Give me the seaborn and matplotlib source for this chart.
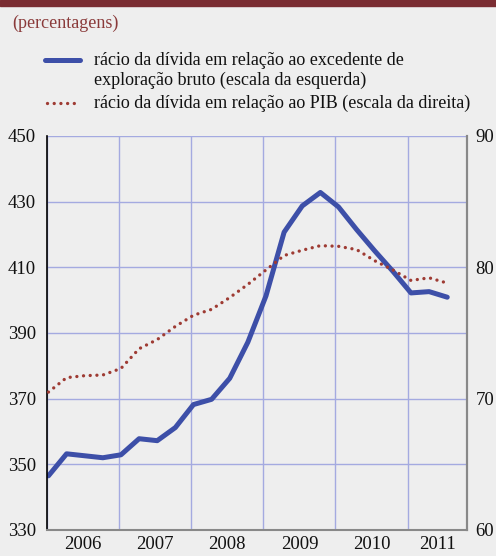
import numpy as np
import pandas as pd
import matplotlib
matplotlib.use("Agg")
import matplotlib.pyplot as plt
from matplotlib.lines import Line2D
import seaborn as sns

# quarterly observations, 2006 Q1 .. 2011 Q3
quarters = np.arange(23)
debt_gos = [346.5, 353.2, 352.6, 352.0, 352.9, 357.8, 357.2, 361.2, 368.2, 369.8,
            376.2, 387.2, 401.3, 420.7, 428.7, 432.8, 428.4, 421.5, 415.0, 408.8,
            402.2, 402.6, 400.9]
debt_gdp = [70.5, 71.6, 71.75, 71.8, 72.3, 73.8, 74.5, 75.5, 76.35, 76.8,
            77.7, 78.7, 79.8, 80.9, 81.3, 81.65, 81.6, 81.35, 80.5, 79.8,
            79.0, 79.2, 78.8]
years = [2006, 2007, 2008, 2009, 2010, 2011]
left_ticks = [330, 350, 370, 390, 410, 430, 450]
right_ticks = [60, 70, 80, 90]

label_blue = ["rácio da dívida em relação ao excedente de",
              "exploração bruto (escala da esquerda)"]
label_red = "rácio da dívida em relação ao PIB (escala da direita)"

df = pd.DataFrame({"t": 2006.02 + 0.2514 * quarters, "gos": debt_gos, "gdp": debt_gdp})

bg = "#eeeeee"
blue = "#3d4fa8"
red = "#9e3b33"
grid_c = "#a4aae0"
txt = "#111111"

sns.set_theme(style="white")
plt.rcParams["font.family"] = ["Liberation Serif", "DejaVu Serif"]

fig = plt.figure(figsize=(4.96, 5.56), dpi=100, facecolor=bg)
ax = fig.add_axes([0.0948, 0.0468, 0.8475, 0.7086])
ax.set_facecolor(bg)

sns.lineplot(data=df, x="t", y="gos", ax=ax, color=blue, linewidth=3.6, legend=False)
ax.set_xlim(2006.0, 2011.83)
ax.set_ylim(330, 450)
ax.set_yticks(left_ticks)
ax.grid(True, axis="both", color=grid_c, linewidth=1.0)
ax.set_axisbelow(True)

ax2 = ax.twinx()
sns.lineplot(data=df, x="t", y="gdp", ax=ax2, color=red, linewidth=2.4,
             linestyle=(0, (0.01, 2.0)), legend=False)
for line in ax2.get_lines():
    line.set_dash_capstyle("round")
ax2.set_ylim(60, 90)
ax2.set_yticks(right_ticks)
ax2.grid(False)

# x ticks at year boundaries, labels centred within each year
ax.set_xticks(years)
ax.set_xticklabels([])
ax.set_xticks([y + 0.5 for y in years[:-1]] + [2011.42], minor=True)
ax.set_xticklabels([str(y) for y in years], minor=True)
ax.tick_params(axis="x", which="major", direction="out", length=4, width=1.5, color="black")
ax.tick_params(axis="x", which="minor", length=0, pad=4, labelsize=13.5, labelcolor=txt)
ax.tick_params(axis="y", length=0, pad=8, labelsize=13.5, labelcolor=txt)
ax2.tick_params(axis="y", length=0, pad=6, labelsize=13.5, labelcolor=txt)
ax.set_xlabel("")
ax.set_ylabel("")
ax2.set_ylabel("")

for a in (ax, ax2):
    a.spines["top"].set_visible(False)
    a.spines["left"].set_color("black")
    a.spines["left"].set_linewidth(1.2)
    a.spines["right"].set_color("#888888")
    a.spines["right"].set_linewidth(1.5)
    a.spines["bottom"].set_color("#888888")
    a.spines["bottom"].set_linewidth(1.5)
ax2.spines["left"].set_visible(False)
ax2.spines["bottom"].set_visible(False)

# header band, subtitle and legend
fig.patches.append(plt.Rectangle((0, 1 - 6 / 556), 1, 6 / 556, transform=fig.transFigure,
                                 color="#7a2c32", zorder=5))
fig.text(12 / 496, 1 - 28 / 556, "(percentagens)", color="#8a3a3a", fontsize=13,
         va="baseline", ha="left")
fig.add_artist(Line2D([45 / 496, 80 / 496], [1 - 59.5 / 556] * 2, color=blue, linewidth=3.6,
                      transform=fig.transFigure))
fig.add_artist(Line2D([46.5 / 496, 79 / 496], [1 - 103 / 556] * 2, color=red, linewidth=2.4,
                      linestyle=(0, (0.01, 2.0)), dash_capstyle="round",
                      transform=fig.transFigure))
fig.text(94 / 496, 1 - 65 / 556, label_blue[0], color=txt, fontsize=13,
         va="baseline", ha="left")
fig.text(94 / 496, 1 - 85 / 556, label_blue[1], color=txt, fontsize=13,
         va="baseline", ha="left")
fig.text(94 / 496, 1 - 107.5 / 556, label_red, color=txt, fontsize=13,
         va="baseline", ha="left")

fig.savefig("out.png", dpi=100, facecolor=bg)
